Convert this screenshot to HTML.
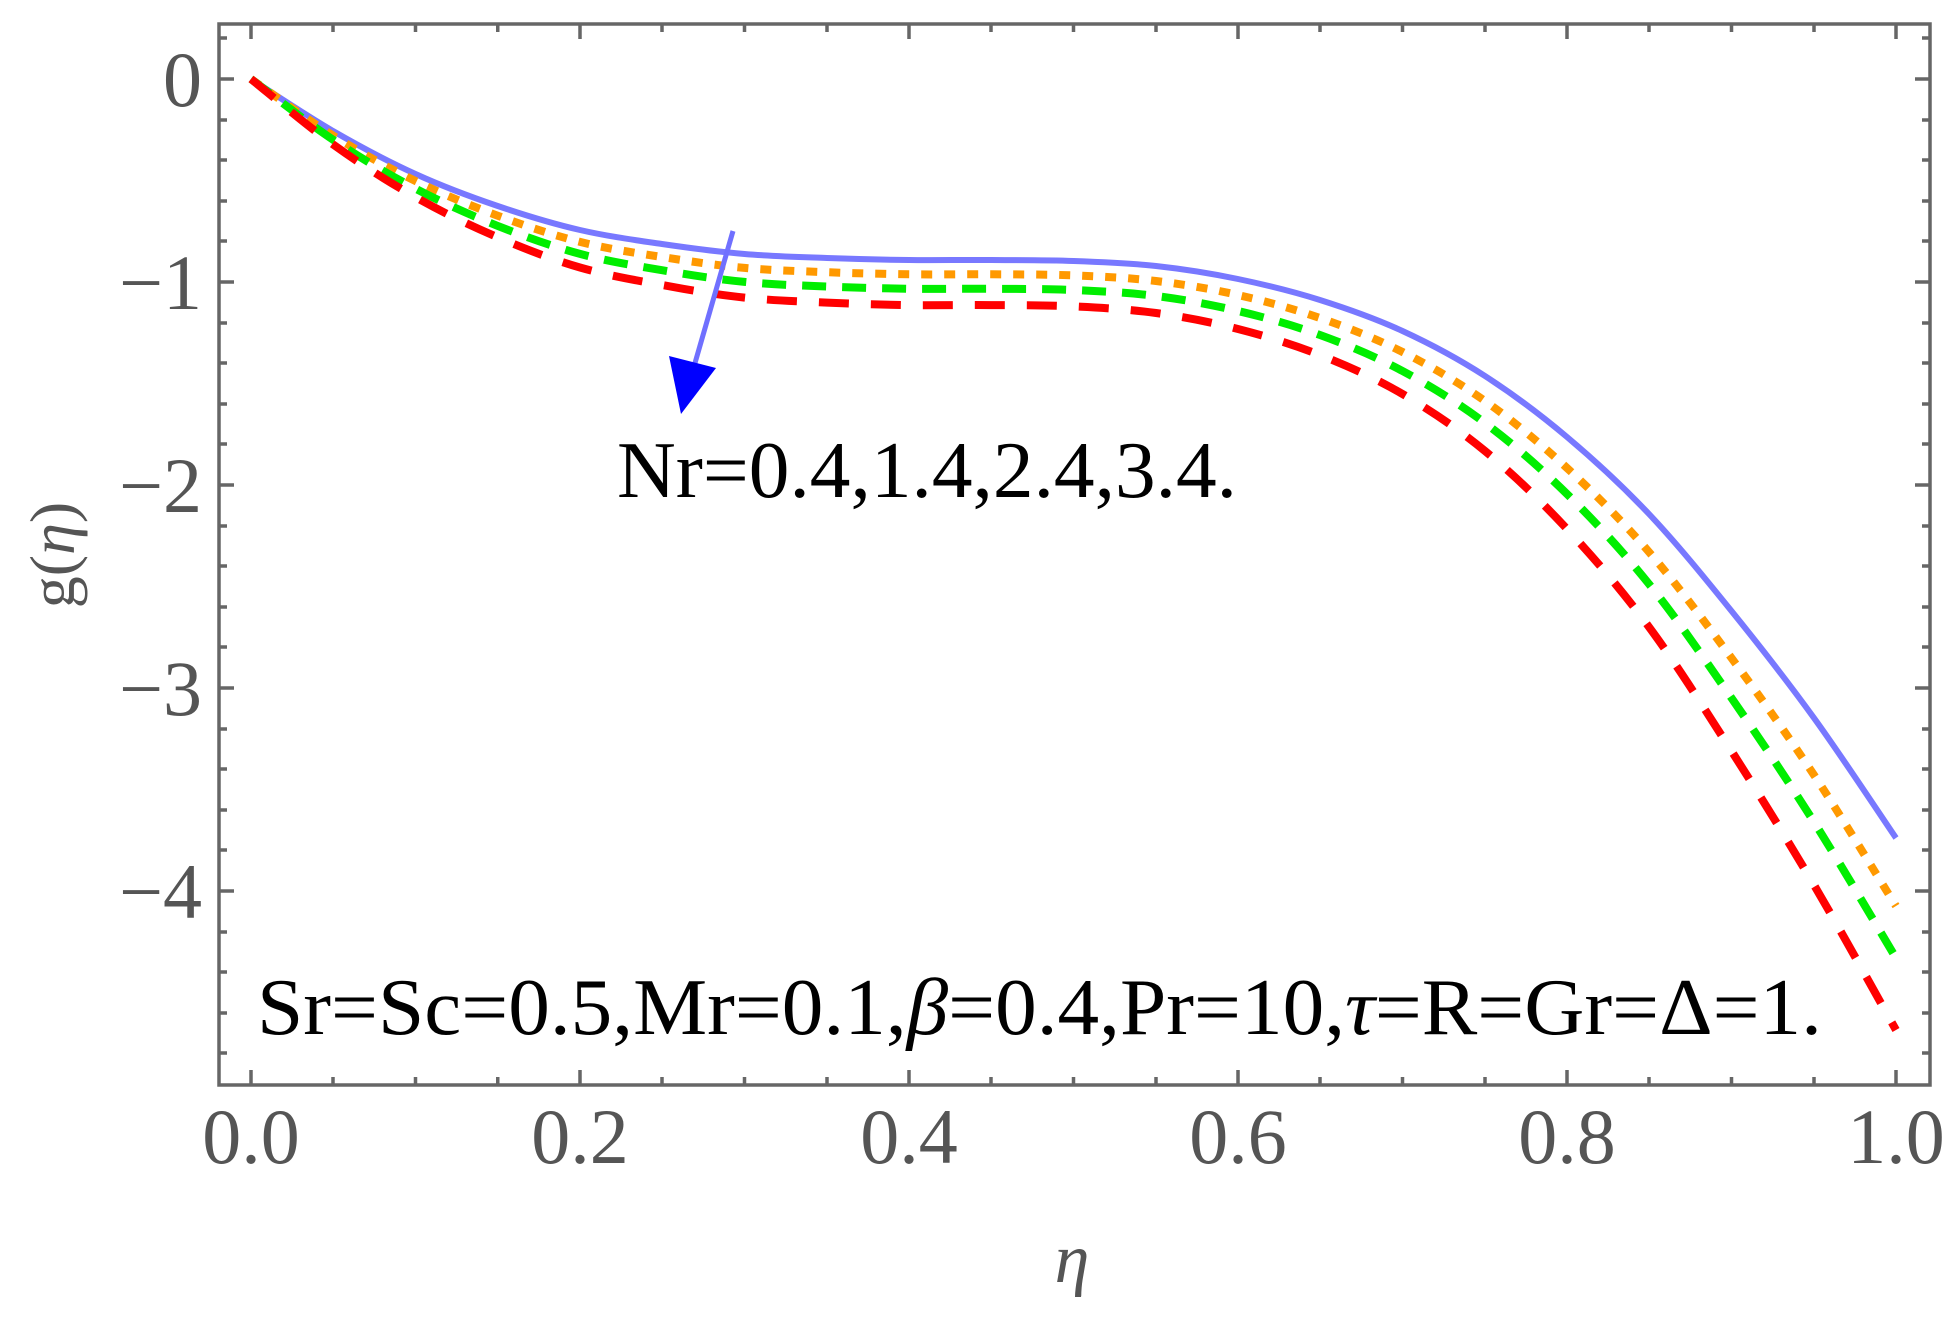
<!DOCTYPE html>
<html><head><meta charset="utf-8"><style>
html,body{margin:0;padding:0;background:#fff;}
svg{display:block;}
</style></head><body>
<svg id="s" width="1959" height="1320" viewBox="0 0 1959 1320" xmlns="http://www.w3.org/2000/svg">
<rect width="1959" height="1320" fill="#fff"/>
<g fill="none" stroke-linejoin="round" stroke-linecap="butt">
<polyline class="c" stroke="#7878ff" stroke-width="6" points="251,79 333,131 415.5,174 497.75,206 580,230 662,244 744.5,254 827,258 909,260 991,260 1073.5,261 1156,266 1238,279 1320,300 1402.5,331 1485,376 1567,437 1649,514 1731.5,611 1814,718 1896,838"/>
<polyline class="c" stroke="#ff9900" stroke-width="8" stroke-dasharray="11,12" points="251,79 333,135.5 415.5,181 497.75,215.7 580,241.9 662,257 744.5,267.9 827,272.2 909,274.3 991,274.3 1073.5,275.4 1156,281 1238,295 1320,318 1402.5,352 1485,401 1567,468 1649,552 1731.5,658 1814,775 1896,906"/>
<polyline class="c" stroke="#00ee00" stroke-width="8" stroke-dasharray="24,16" points="251,79 333,139.7 415.5,188.6 497.75,225.9 580,253.9 662,270.2 744.5,281.9 827,286.5 909,288.8 991,288.8 1073.5,290 1156,296 1238,311 1320,335 1402.5,371 1485,423 1567,494 1649,584 1731.5,698 1814,822 1896,958"/>
<polyline class="c" stroke="#ff0000" stroke-width="8" stroke-dasharray="30,22" points="251,79 333,144.4 415.5,197.1 497.75,237.3 580,267.5 662,285 744.5,297.6 827,302.6 909,305.1 991,305.1 1073.5,306.4 1156,313 1238,329 1320,355 1402.5,394 1485,451 1567,529 1649,627 1731.5,751 1814,885 1896,1030"/>
</g>
<rect x="219" y="24" width="1711" height="1061" fill="none" stroke="#666" stroke-width="3.5"/>
<g stroke="#666" stroke-width="3.5">
<path d="M251,1085v-15M580,1085v-15M909,1085v-15M1238,1085v-15M1567,1085v-15M1896,1085v-15
M251,24v15M580,24v15M909,24v15M1238,24v15M1567,24v15M1896,24v15"/>
<path d="M333,1085v-8M415.5,1085v-8M497.75,1085v-8M662,1085v-8M744.5,1085v-8M827,1085v-8M991,1085v-8M1073.5,1085v-8M1156,1085v-8M1320,1085v-8M1402.5,1085v-8M1485,1085v-8M1649,1085v-8M1731.5,1085v-8M1814,1085v-8
M333,24v8M415.5,24v8M497.75,24v8M662,24v8M744.5,24v8M827,24v8M991,24v8M1073.5,24v8M1156,24v8M1320,24v8M1402.5,24v8M1485,24v8M1649,24v8M1731.5,24v8M1814,24v8"/>
<path d="M219,79h15M219,282h15M219,485h15M219,688h15M219,891h15
M1930,79h-15M1930,282h-15M1930,485h-15M1930,688h-15M1930,891h-15"/>
<path d="M219,38h8M219,120h8M219,160h8M219,201h8M219,241h8M219,323h8M219,363h8M219,404h8M219,444h8M219,526h8M219,566h8M219,607h8M219,647h8M219,729h8M219,769h8M219,810h8M219,850h8M219,932h8M219,972h8M219,1013h8M219,1053h8
M1930,38h-8M1930,120h-8M1930,160h-8M1930,201h-8M1930,241h-8M1930,323h-8M1930,363h-8M1930,404h-8M1930,444h-8M1930,526h-8M1930,566h-8M1930,607h-8M1930,647h-8M1930,729h-8M1930,769h-8M1930,810h-8M1930,850h-8M1930,932h-8M1930,972h-8M1930,1013h-8M1930,1053h-8"/>
</g>
<g font-family="Liberation Serif, serif" font-size="78" fill="#555">
<g text-anchor="end">
<text x="202" y="106">0</text>
<text x="202" y="309">−1</text>
<text x="202" y="512">−2</text>
<text x="202" y="715">−3</text>
<text x="202" y="918">−4</text>
</g>
<g text-anchor="middle">
<text x="251" y="1163">0.0</text>
<text x="580" y="1163">0.2</text>
<text x="909" y="1163">0.4</text>
<text x="1238" y="1163">0.6</text>
<text x="1567" y="1163">0.8</text>
<text x="1896" y="1163">1.0</text>
</g>
<text x="1072" y="1282" text-anchor="middle" font-style="italic" font-size="70">η</text>
<text transform="translate(74,555) rotate(-90)" text-anchor="middle" font-size="64">g(<tspan font-style="italic">η</tspan>)</text>
</g>
<line x1="733" y1="231" x2="693" y2="370" stroke="#7070ff" stroke-width="5"/>
<polygon points="681,414 669,356 716,368" fill="#0000ff"/>
<g font-family="Liberation Serif, serif" font-size="80" fill="#000">
<text x="617" y="497" textLength="620" lengthAdjust="spacingAndGlyphs">Nr=0.4,1.4,2.4,3.4.</text>
<text x="257" y="1034" textLength="1565" lengthAdjust="spacingAndGlyphs">Sr=Sc=0.5,Mr=0.1,<tspan font-style="italic">β</tspan>=0.4,Pr=10,<tspan font-style="italic">τ</tspan>=R=Gr=Δ=1.</text>
</g>
</svg>
<script>
document.querySelectorAll('polyline.c').forEach(function(pl){
  var p=pl.getAttribute('points').trim().split(/\s+/).map(function(s){return s.split(',').map(Number);});
  var d='M'+p[0][0]+','+p[0][1];
  for(var i=0;i<p.length-1;i++){
    var p0=p[i-1]||p[i],p1=p[i],p2=p[i+1],p3=p[i+2]||p[i+1];
    var c1x=p1[0]+(p2[0]-p0[0])/6,c1y=p1[1]+(p2[1]-p0[1])/6;
    var c2x=p2[0]-(p3[0]-p1[0])/6,c2y=p2[1]-(p3[1]-p1[1])/6;
    d+=' C'+c1x.toFixed(1)+','+c1y.toFixed(1)+' '+c2x.toFixed(1)+','+c2y.toFixed(1)+' '+p2[0]+','+p2[1];
  }
  var path=document.createElementNS('http://www.w3.org/2000/svg','path');
  ['stroke','stroke-width','stroke-dasharray'].forEach(function(a){if(pl.getAttribute(a))path.setAttribute(a,pl.getAttribute(a));});
  path.setAttribute('d',d);
  pl.parentNode.replaceChild(path,pl);
});
</script>
</body></html>
